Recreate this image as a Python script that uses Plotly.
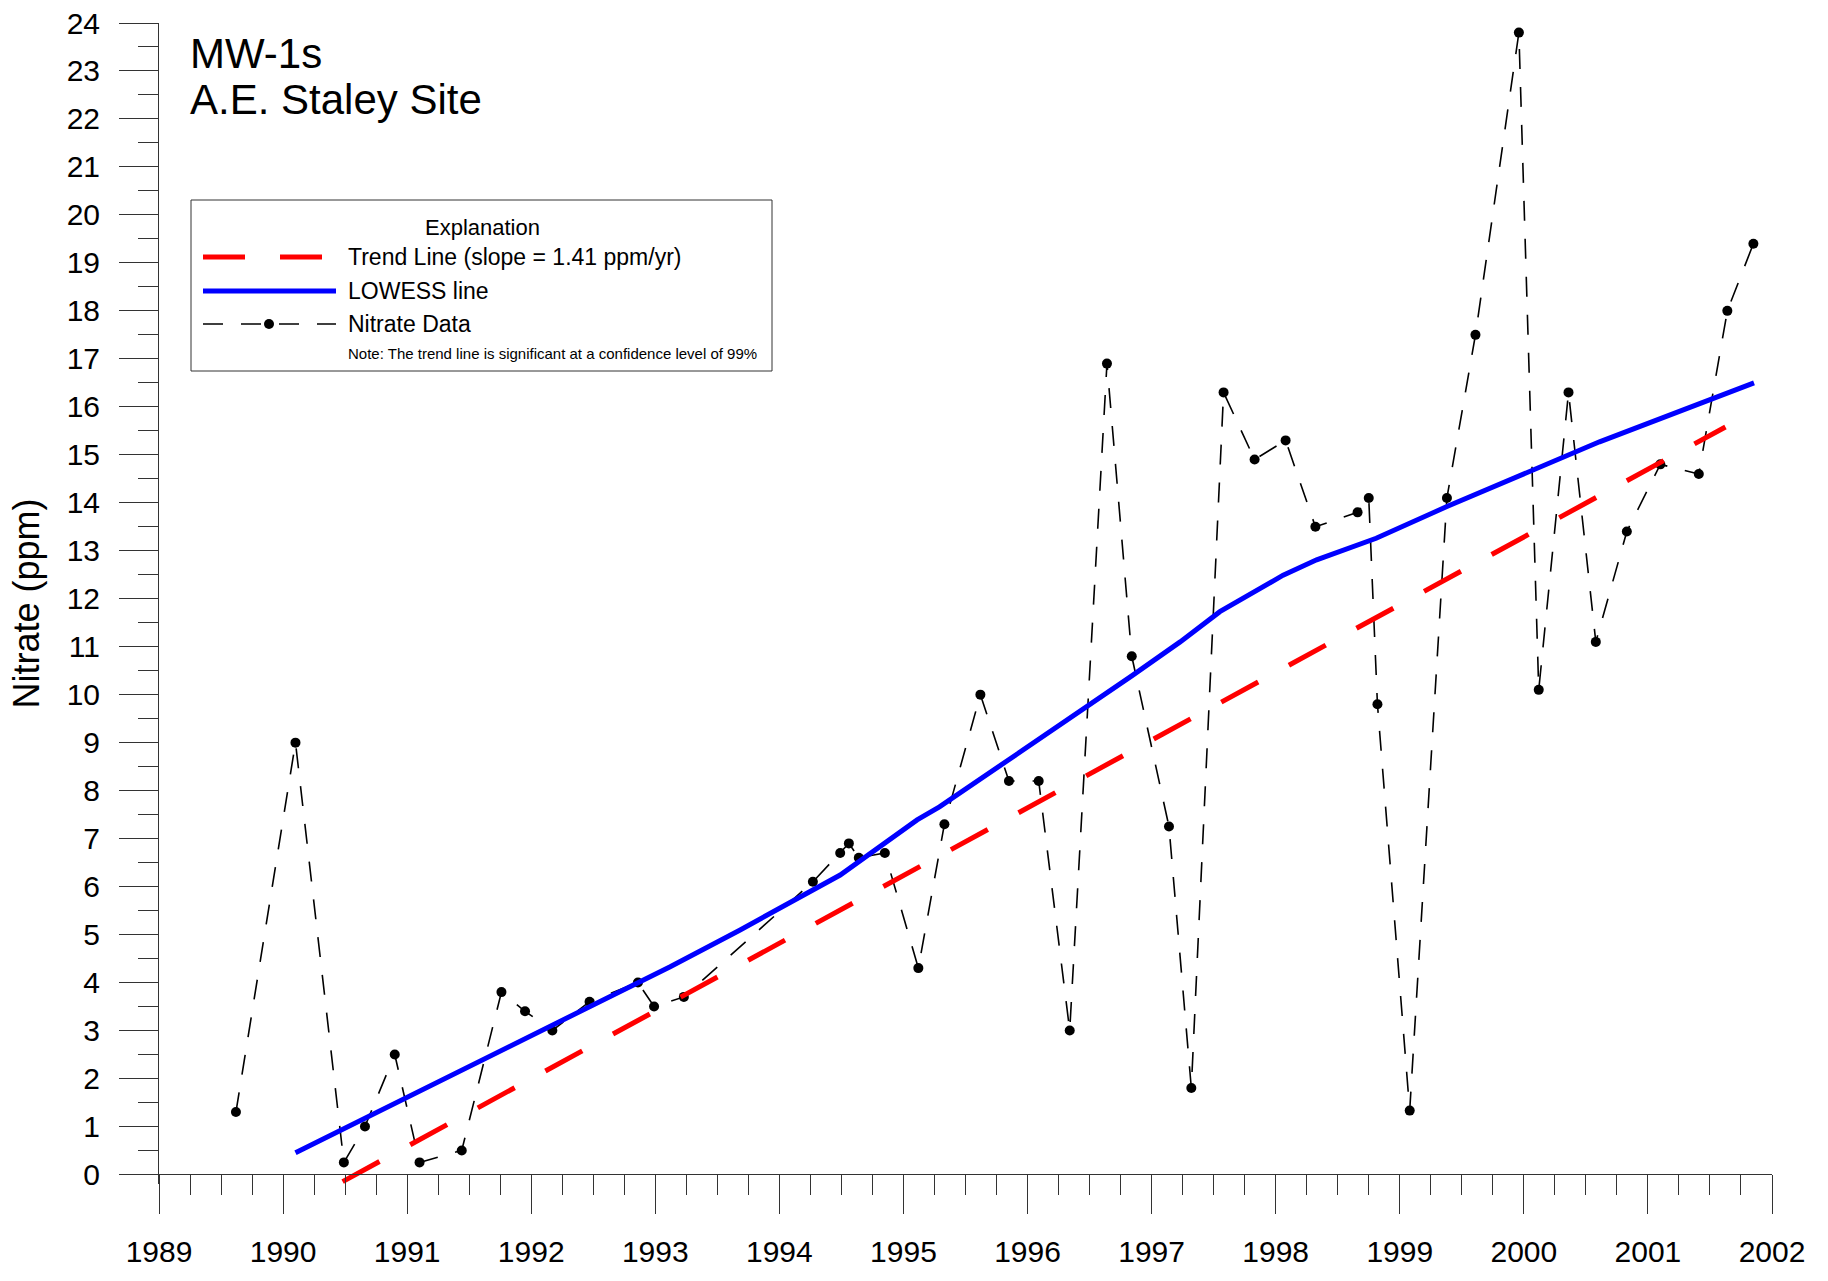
import plotly.graph_objects as go

# ---------------- data ----------------
years = [1989.62, 1990.10, 1990.49, 1990.66, 1990.90, 1991.10, 1991.44, 1991.76, 1991.95, 1992.17,
         1992.47, 1992.86, 1992.99, 1993.23, 1994.27, 1994.49, 1994.56, 1994.64, 1994.85, 1995.12,
         1995.33, 1995.62, 1995.85, 1996.09, 1996.34, 1996.64, 1996.84, 1997.14, 1997.32, 1997.58,
         1997.83, 1998.08, 1998.32, 1998.66, 1998.75, 1998.82, 1999.08, 1999.38, 1999.61, 1999.96,
         2000.12, 2000.36, 2000.58, 2000.83, 2001.10, 2001.41, 2001.64, 2001.85]
nitrate = [1.3, 9.0, 0.25, 1.0, 2.5, 0.25, 0.5, 3.8, 3.4, 3.0,
           3.6, 4.0, 3.5, 3.7, 6.1, 6.7, 6.9, 6.6, 6.7, 4.3,
           7.3, 10.0, 8.2, 8.2, 3.0, 16.9, 10.8, 7.25, 1.8, 16.3,
           14.9, 15.3, 13.5, 13.8, 14.1, 9.8, 1.33, 14.1, 17.5, 23.8,
           10.1, 16.3, 11.1, 13.4, 14.8, 14.6, 18.0, 19.4]

lowess_x = [1990.10, 1993.12, 1993.68, 1994.09, 1994.49, 1995.11, 1995.29, 1996.84,
            1997.23, 1997.55, 1998.06, 1998.33, 1998.81, 1999.38, 2000.07, 2000.61, 2001.855]
lowess_y = [0.45, 4.33, 5.09, 5.68, 6.24, 7.39, 7.66, 10.39,
            11.10, 11.73, 12.49, 12.81, 13.26, 13.92, 14.68, 15.27, 16.50]

trend_x = [1990.48, 2001.625]
trend_y = [-0.15, 15.58]

x_ticks = list(range(1989, 2003))
x_labels = [str(v) for v in x_ticks]
y_ticks = list(range(0, 25))
y_labels = [str(v) for v in y_ticks]

title_lines = ["MW-1s", "A.E. Staley Site"]
legend_title = "Explanation"
legend_labels = ["Trend Line (slope = 1.41 ppm/yr)", "LOWESS line", "Nitrate Data"]
legend_note = "Note: The trend line is significant at a confidence level of 99%"

# ---------------- layout geometry ----------------
W, H = 1828, 1281
ML, MR, MT, MB = 159, 56, 23, 97
YMIN, YMAX = -0.2, 24
FONT = "Liberation Sans, Arial, sans-serif"
AX = "#333333"


def px(x):
    return (x - ML) / (W - ML - MR)


def py(y):
    return (H - MB - y) / (H - MT - MB)


fig = go.Figure()
fig.add_trace(go.Scatter(
    x=years, y=nitrate, mode="lines+markers", name=legend_labels[2],
    line=dict(color="black", width=1.6, dash="20px,18px"),
    marker=dict(color="black", size=10), showlegend=False))
fig.add_trace(go.Scatter(
    x=trend_x, y=trend_y, mode="lines", name=legend_labels[0],
    line=dict(color="#ff0000", width=5, dash="42px,35px"), showlegend=False))
fig.add_trace(go.Scatter(
    x=lowess_x, y=lowess_y, mode="lines", name=legend_labels[1],
    line=dict(color="#0000ff", width=5), showlegend=False))

shapes = []
annotations = []

# title
annotations.append(dict(text=title_lines[0], x=px(188), y=py(53.5), xref="paper", yref="paper",
                        xanchor="left", yanchor="middle", showarrow=False,
                        font=dict(family=FONT, size=42, color="black")))
annotations.append(dict(text=title_lines[1], x=px(188), y=py(99.5), xref="paper", yref="paper",
                        xanchor="left", yanchor="middle", showarrow=False,
                        font=dict(family=FONT, size=42, color="black")))

# legend box
shapes.append(dict(type="rect", xref="paper", yref="paper", x0=px(191), x1=px(772),
                   y0=py(371), y1=py(200), line=dict(color=AX, width=1), fillcolor="white",
                   layer="above"))
annotations.append(dict(text=legend_title, x=px(482), y=py(228), xref="paper", yref="paper",
                        xanchor="center", yanchor="middle", showarrow=False,
                        font=dict(family=FONT, size=22, color="black")))
rows = [257, 291, 324]
shapes.append(dict(type="line", xref="paper", yref="paper", x0=px(203), x1=px(322),
                   y0=py(rows[0]), y1=py(rows[0]),
                   line=dict(color="#ff0000", width=5, dash="42px,35px"), layer="above"))
shapes.append(dict(type="line", xref="paper", yref="paper", x0=px(203), x1=px(336),
                   y0=py(rows[1]), y1=py(rows[1]),
                   line=dict(color="#0000ff", width=5), layer="above"))
shapes.append(dict(type="line", xref="paper", yref="paper", x0=px(203), x1=px(336),
                   y0=py(rows[2]), y1=py(rows[2]),
                   line=dict(color="black", width=1.6, dash="20px,18px"), layer="above"))
shapes.append(dict(type="circle", xref="paper", yref="paper", xsizemode="pixel",
                   ysizemode="pixel", xanchor=px(269), yanchor=py(rows[2]),
                   x0=-5, x1=5, y0=-5, y1=5, fillcolor="black",
                   line=dict(color="black", width=0), layer="above"))
for lab, r in zip(legend_labels, rows):
    annotations.append(dict(text=lab, x=px(346), y=py(r), xref="paper", yref="paper",
                            xanchor="left", yanchor="middle", showarrow=False,
                            font=dict(family=FONT, size=23, color="black")))
annotations.append(dict(text=legend_note, x=px(346), y=py(353), xref="paper", yref="paper",
                        xanchor="left", yanchor="middle", showarrow=False,
                        font=dict(family=FONT, size=15, color="black")))

fig.update_layout(
    width=W, height=H,
    margin=dict(l=ML, r=MR, t=MT, b=MB, autoexpand=False),
    paper_bgcolor="white", plot_bgcolor="white",
    font=dict(family=FONT, color="black"),
    showlegend=False,
    shapes=shapes, annotations=annotations,
    xaxis=dict(
        range=[1989, 2002], tickmode="array", tickvals=x_ticks, ticktext=x_labels,
        ticks="outside", ticklen=39, tickwidth=1, tickcolor=AX,
        showline=True, linecolor=AX, linewidth=1, showgrid=False, zeroline=False,
        anchor="free", position=(0 - YMIN) / (YMAX - YMIN),
        tickfont=dict(family=FONT, size=30, color="black"), ticklabelstandoff=12,
        minor=dict(dtick=0.25, tick0=1989, ticks="outside", ticklen=20, tickwidth=1,
                   tickcolor=AX, showgrid=False),
    ),
    yaxis=dict(
        range=[YMIN, YMAX], tickmode="array", tickvals=y_ticks, ticktext=y_labels,
        ticks="outside", ticklen=39, tickwidth=1, tickcolor=AX,
        showline=True, linecolor=AX, linewidth=1, showgrid=False, zeroline=False,
        tickfont=dict(family=FONT, size=30, color="black"), ticklabelstandoff=13,
        minor=dict(dtick=0.5, tick0=0, ticks="outside", ticklen=20, tickwidth=1,
                   tickcolor=AX, showgrid=False),
        title=dict(text="Nitrate (ppm)", font=dict(family=FONT, size=36, color="black"),
                   standoff=16),
    ),
)

fig.write_html(
    "out.html",
    config={"displayModeBar": False},
    post_script="document.body.style.margin='0';document.body.style.padding='0';"
                "document.body.style.overflow='hidden';",
)
